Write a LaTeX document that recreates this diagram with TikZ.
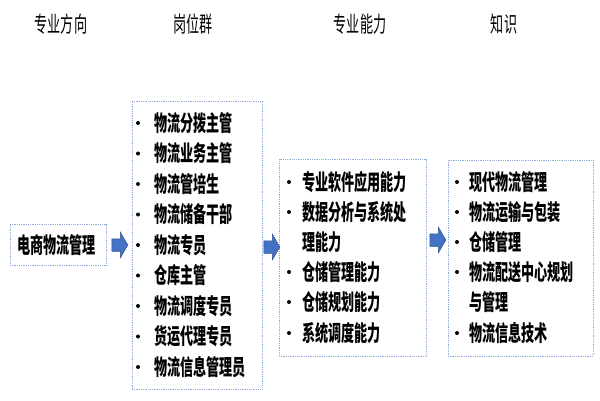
\documentclass[tikz,border=0pt]{standalone}
\usepackage{fontspec}
\newfontfamily\cjk[FakeStretch=0.595]{Noto Sans CJK SC}
\usetikzlibrary{shapes.arrows}
\definecolor{boxblue}{RGB}{143,170,220}
\definecolor{arrowblue}{RGB}{68,114,196}
\definecolor{arrowline}{RGB}{47,82,143}
\tikzset{
  box/.style={draw=boxblue, densely dotted, line width=0.8pt, inner sep=0},
  txt/.style={font=\cjk\bfseries\fontsize{22}{22}\selectfont, anchor=west, inner sep=0},
  head/.style={font=\cjk\fontsize{22}{22}\selectfont, inner sep=0},
  dot/.style={circle, fill=black, inner sep=0, minimum size=4pt},
  blockarrow/.style={single arrow, fill=arrowblue, draw=arrowline, line width=0.5pt,
    inner xsep=0, inner ysep=6pt, minimum height=16pt,
    single arrow head extend=6.5pt, single arrow tip angle=120}
}
\begin{document}
\begin{tikzpicture}[x=1pt, y=-1pt]
  \useasboundingbox (0,0) rectangle (600,400);
  % column titles
  \node[head] (h1) at (61,24) {专业方向};
  \node[head] (h2) at (193,24) {岗位群};
  \node[head] (h3) at (360,24) {专业能力};
  \node[head] (h4) at (504,24) {知识};
  % boxes
  \node[box, minimum width=96pt, minimum height=41pt] (dir) at (58,244.5) {};
  \node[box, minimum width=130pt, minimum height=288pt] (jobs) at (197,245) {};
  \node[box, minimum width=147pt, minimum height=197pt] (skills) at (352.5,257.5) {};
  \node[box, minimum width=145pt, minimum height=196pt] (know) at (520.5,258) {};
  \node[txt] (d1) at (17,245) {电商物流管理};
  % arrows
  \node[blockarrow] (a1) at (118,245) {};
  \node[blockarrow] (a2) at (270,247) {};
  \node[blockarrow] (a3) at (436,240) {};
  \def \Jobs{
    1/123/物流分拨主管,
    2/153.5/物流业务主管,
    3/184/物流管培生,
    4/214.5/物流储备干部,
    5/245/物流专员,
    6/275.5/仓库主管,
    7/306/物流调度专员,
    8/336.5/货运代理专员,
    9/367/物流信息管理员}
  \def \Skills{
    1/182/1/专业软件应用能力,
    2/212/1/数据分析与系统处,
    3/242/0/理能力,
    4/272/1/仓储管理能力,
    5/302/1/仓储规划能力,
    6/333/1/系统调度能力}
  \def \Know{
    1/182/1/现代物流管理,
    2/212/1/物流运输与包装,
    3/242/1/仓储管理,
    4/272/1/物流配送中心规划,
    5/302/0/与管理,
    6/333/1/物流信息技术}
  \foreach \id / \y / \t in \Jobs{
    \node[dot] (jd\id) at (138,\y) {};
    \node[txt] (j\id) at (154,\y) {\t};
  }
  \foreach \id / \y / \b / \t in \Skills{
    \ifnum\b=1 \node[dot] (sd\id) at (289,\y) {}; \fi
    \node[txt] (s\id) at (302,\y) {\t};
  }
  \foreach \id / \y / \b / \t in \Know{
    \ifnum\b=1 \node[dot] (kd\id) at (457,\y) {}; \fi
    \node[txt] (k\id) at (469,\y) {\t};
  }
\end{tikzpicture}
\end{document}
